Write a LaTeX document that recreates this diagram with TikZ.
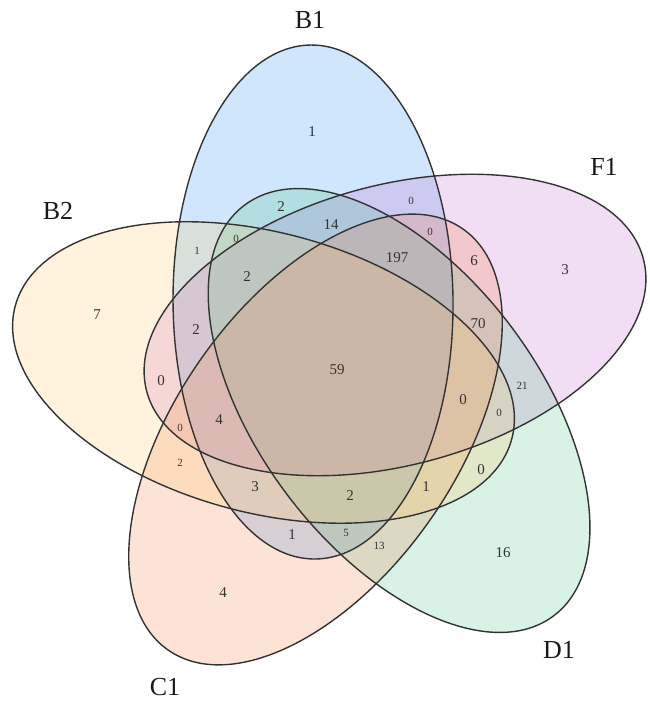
\documentclass[tikz,border=0pt]{standalone}
\usepackage{fontspec}
\setmainfont{Liberation Serif}
\definecolor{colB1}{RGB}{20,130,240}
\definecolor{colF1}{RGB}{190,90,200}
\definecolor{colB2}{RGB}{255,195,90}
\definecolor{colC1}{RGB}{245,115,50}
\definecolor{colD1}{RGB}{60,190,125}
\begin{document}
\begin{tikzpicture}[x=1pt,y=1pt,
  setlabel/.style={font=\fontsize{26}{26}\selectfont, text=black!90},
  num/.style={font=\fontsize{15}{15}\selectfont, text=black!80},
  smallnum/.style={font=\fontsize{11}{11}\selectfont, text=black!80},
  vfill/.style={fill=#1, fill opacity=0.2},
  vline/.style={draw=black!80, line width=1.4pt}
]
\useasboundingbox (0,0) rectangle (649,703);
% ellipse centres
\coordinate (cB1) at (313,401);
\coordinate (cF1) at (395,378);
\coordinate (cD1) at (399,292.5);
\coordinate (cC1) at (315.5,263.5);
\coordinate (cB2) at (263.5,330.5);
% fills
\fill[vfill=colB1, rotate around={90.5:(cB1)}] (cB1) ellipse [x radius=257pt, y radius=140pt];
\fill[vfill=colF1, rotate around={15:(cF1)}] (cF1) ellipse [x radius=257pt, y radius=140pt];
\fill[vfill=colD1, rotate around={-53:(cD1)}] (cD1) ellipse [x radius=257pt, y radius=140pt];
\fill[vfill=colC1, rotate around={55:(cC1)}] (cC1) ellipse [x radius=257pt, y radius=140pt];
\fill[vfill=colB2, rotate around={-15:(cB2)}] (cB2) ellipse [x radius=257pt, y radius=140pt];
% outlines
\draw[vline, rotate around={90.5:(cB1)}] (cB1) ellipse [x radius=257pt, y radius=140pt];
\draw[vline, rotate around={15:(cF1)}] (cF1) ellipse [x radius=257pt, y radius=140pt];
\draw[vline, rotate around={-53:(cD1)}] (cD1) ellipse [x radius=257pt, y radius=140pt];
\draw[vline, rotate around={55:(cC1)}] (cC1) ellipse [x radius=257pt, y radius=140pt];
\draw[vline, rotate around={-15:(cB2)}] (cB2) ellipse [x radius=257pt, y radius=140pt];
% set labels
\node[setlabel] (lB1) at (310,683) {B1};
\node[setlabel] (lF1) at (604,536) {F1};
\node[setlabel] (lB2) at (58,492) {B2};
\node[setlabel] (lC1) at (165,16) {C1};
\node[setlabel] (lD1) at (559,53) {D1};
% region counts
\node[num] (n1) at (312,571) {1};
\node[num] (n2) at (565,433) {3};
\node[num] (n3) at (97,388) {7};
\node[num] (n4) at (223,110) {4};
\node[num] (n5) at (503,150) {16};
\node[num] (n6) at (337,333) {59};
\node[num] (n7) at (281,496) {2};
\node[num] (n8) at (331,478) {14};
\node[smallnum] (n9) at (411,502) {0};
\node[smallnum] (n10) at (430,471) {0};
\node[smallnum] (n11) at (197,452) {1};
\node[smallnum] (n12) at (236,464) {0};
\node[num] (n13) at (397,445) {197};
\node[num] (n14) at (474,442) {6};
\node[num] (n15) at (247,426) {2};
\node[num] (n16) at (478,379) {70};
\node[num] (n17) at (196,373) {2};
\node[num] (n18) at (161,322) {0};
\node[smallnum] (n19) at (522,317) {21};
\node[num] (n20) at (463,303) {0};
\node[smallnum] (n21) at (499,290) {0};
\node[smallnum] (n22) at (180,275) {0};
\node[num] (n23) at (219,283) {4};
\node[smallnum] (n24) at (180,240) {2};
\node[num] (n25) at (481,233) {0};
\node[num] (n26) at (255,216) {3};
\node[num] (n27) at (426,216) {1};
\node[num] (n28) at (350,207) {2};
\node[num] (n29) at (292,168) {1};
\node[smallnum] (n30) at (346,170) {5};
\node[smallnum] (n31) at (379,157) {13};
\end{tikzpicture}
\end{document}
